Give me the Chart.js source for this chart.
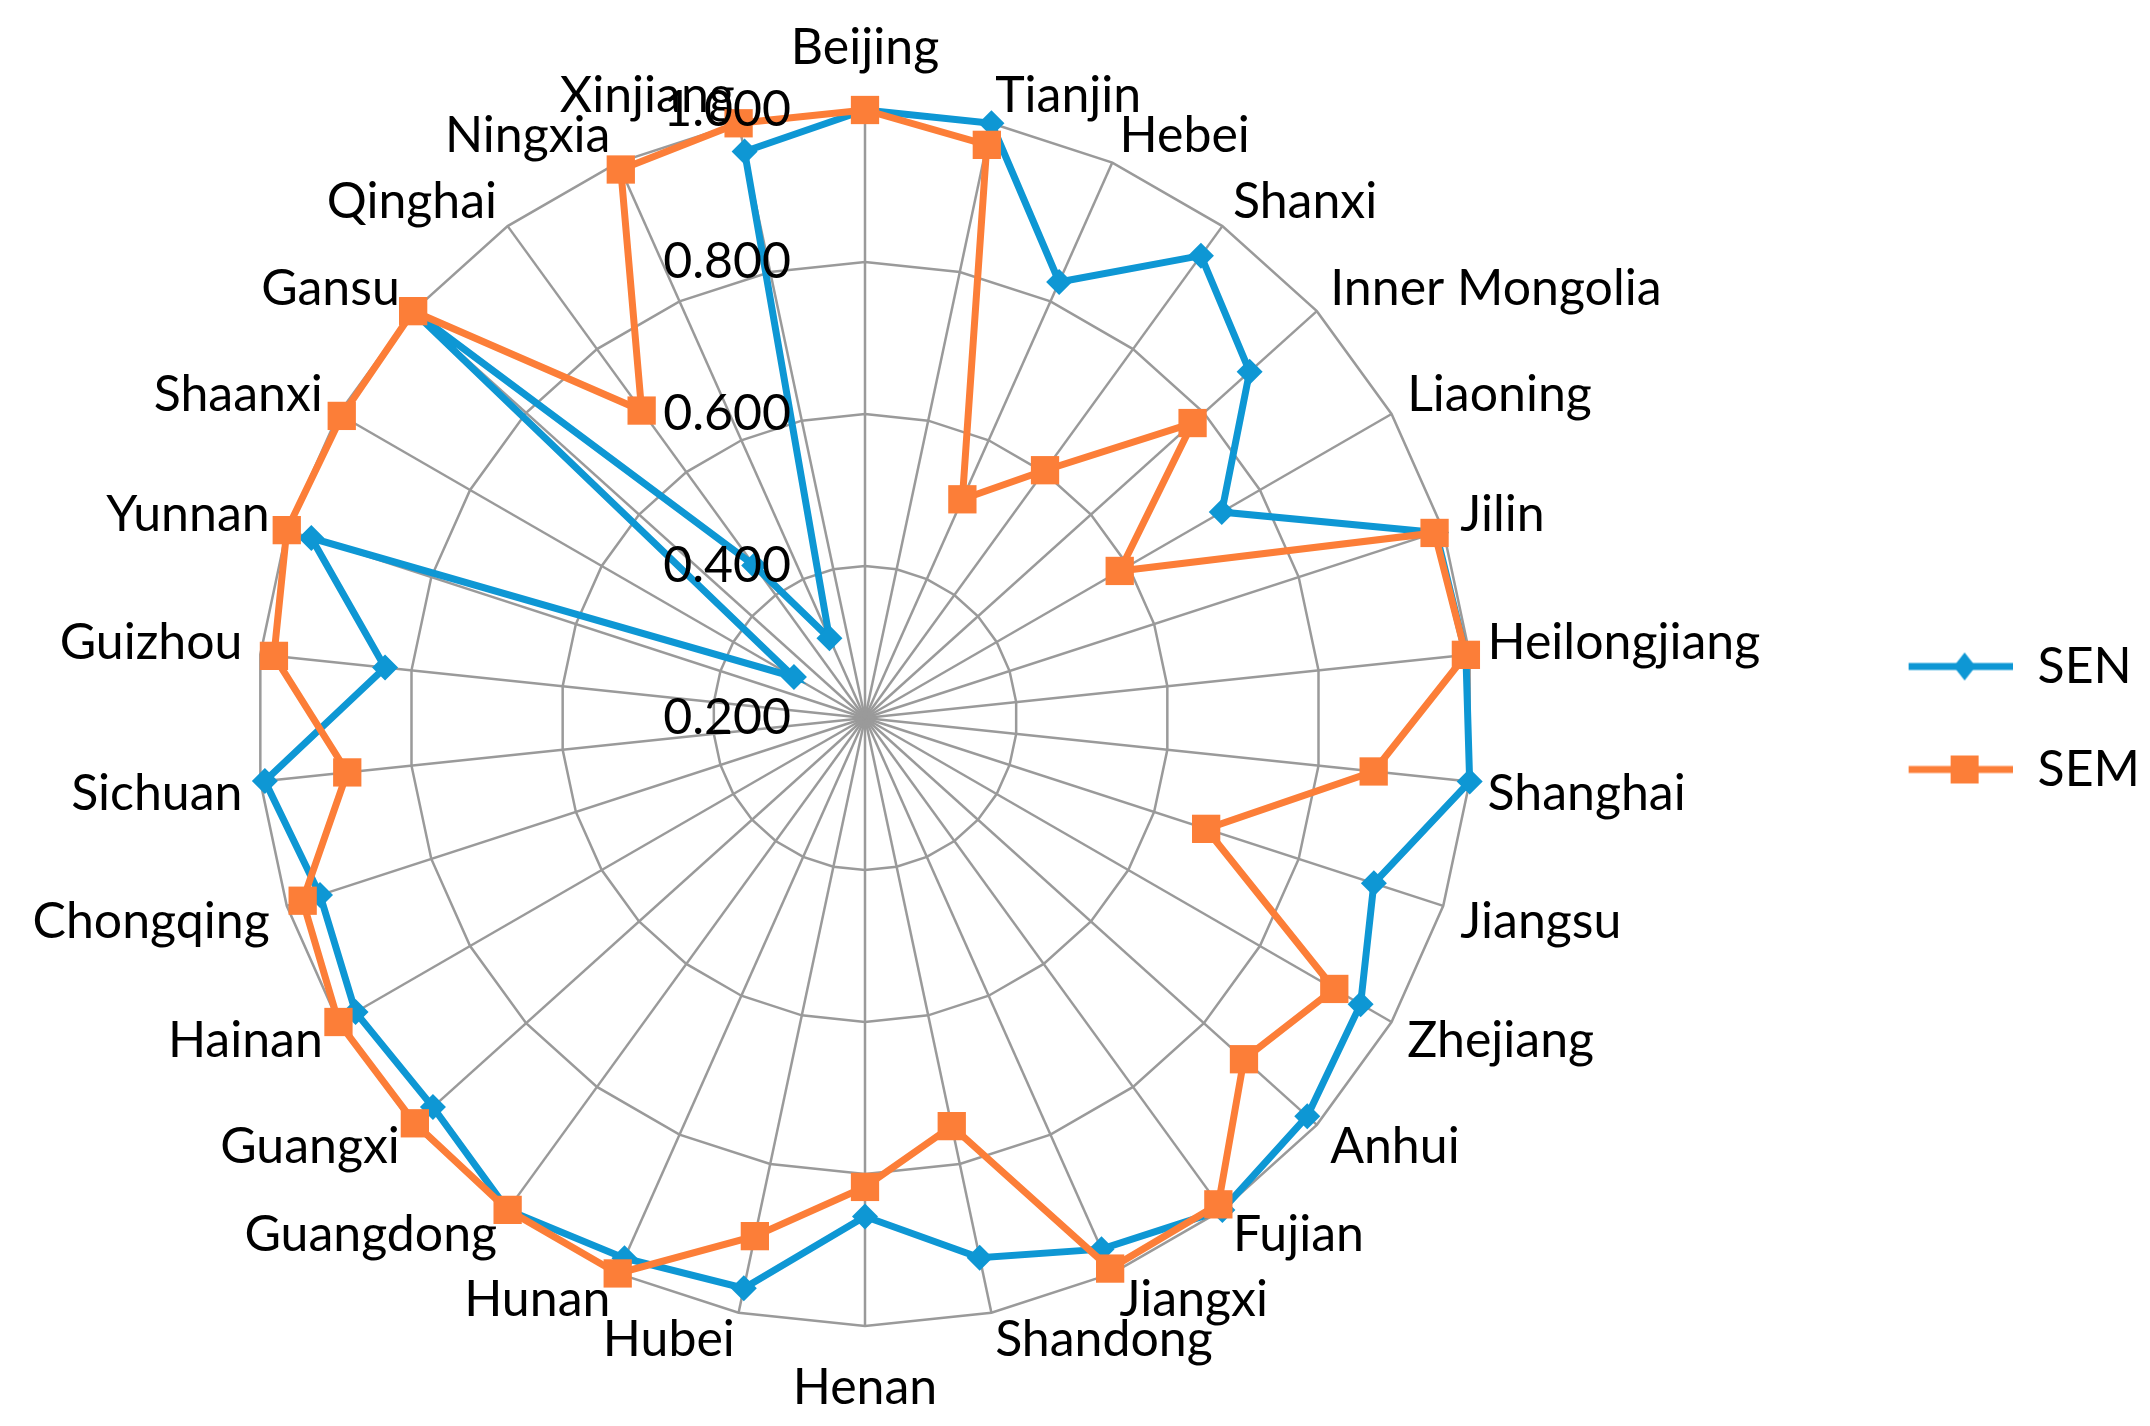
<!DOCTYPE html>
<html>
<head>
<meta charset="utf-8">
<title>SEN / SEM radar</title>
<script src="https://cdn.jsdelivr.net/npm/chart.js@4.4.1/dist/chart.umd.min.js"></script>
<style>
  html, body { margin: 0; padding: 0; background: #fff; }
  #wrap { width: 2150px; height: 1426px; }
</style>
</head>
<body>
<div id="wrap"><canvas id="radar"></canvas></div>
<script>
const provinces = ['Beijing', 'Tianjin', 'Hebei', 'Shanxi', 'Inner Mongolia', 'Liaoning', 'Jilin',
    'Heilongjiang', 'Shanghai', 'Jiangsu', 'Zhejiang', 'Anhui', 'Fujian', 'Jiangxi', 'Shandong',
    'Henan', 'Hubei', 'Hunan', 'Guangdong', 'Guangxi', 'Hainan', 'Chongqing', 'Sichuan', 'Guizhou',
    'Yunnan', 'Shaanxi', 'Gansu', 'Qinghai', 'Ningxia', 'Xinjiang'];

const sen = [1.000, 1.000, 0.828, 0.952, 0.881, 0.742, 0.990, 0.995, 1.000, 0.904, 0.953, 0.983,
    1.000, 0.965, 0.926, 0.856, 0.967, 0.978, 1.000, 0.965, 0.974, 0.954, 0.994, 0.835,
    0.966, 0.308, 1.000, 0.448, 0.315, 0.962];

const sem = [1.000, 0.971, 0.515, 0.603, 0.780, 0.587, 0.988, 0.995, 0.873, 0.672, 0.913, 0.871,
    0.991, 0.993, 0.749, 0.817, 0.897, 1.000, 1.000, 0.997, 1.000, 0.978, 0.885, 0.982,
    1.000, 0.995, 1.000, 0.700, 0.990, 1.000];

const tickValues = [0.2, 0.4, 0.6, 0.8, 1.0];

const blue = '#0E97D4';
const orange = '#FC7E38';
const gridGrey = '#9a9a9a';
const fontFamily = 'Lato, "Open Sans", sans-serif';

// line + marker sample for the legend (Excel style), drawn in the right part of the box
function legendSymbol(color, shape) {
    const c = document.createElement('canvas');
    c.width = 163;
    c.height = 36;
    const g = c.getContext('2d');
    g.strokeStyle = color;
    g.fillStyle = color;
    g.lineWidth = 7;
    g.beginPath();
    g.moveTo(59, 18);
    g.lineTo(163, 18);
    g.stroke();
    const cx = 115;
    if (shape === 'rect') {
        g.fillRect(cx - 14, 4, 28, 28);
    } else {
        g.beginPath();
        g.moveTo(cx, 4);
        g.lineTo(cx + 11, 18);
        g.lineTo(cx, 32);
        g.lineTo(cx - 11, 18);
        g.closePath();
        g.fill();
    }
    return c;
}

const legendSymbols = [legendSymbol(blue, 'diamond'), legendSymbol(orange, 'rect')];

// value labels sit left of the vertical axis, as in Excel
const tickLabels = {
    id: 'tickLabels',
    afterDraw(chart) {
        const scale = chart.scales.r;
        const ctx = chart.ctx;
        ctx.save();
        ctx.font = '50px ' + fontFamily;
        ctx.fillStyle = '#000';
        ctx.textAlign = 'right';
        ctx.textBaseline = 'middle';
        tickValues.forEach(v => {
            const y = scale.yCenter - scale.getDistanceFromCenterForValue(v);
            ctx.fillText(v.toFixed(3), scale.xCenter - 74, y);
        });
        ctx.restore();
    }
};

new Chart(document.getElementById('radar'), {
    type: 'radar',
    data: {
        labels: provinces,
        datasets: [
            {
                label: 'SEN',
                data: sen,
                borderColor: blue,
                backgroundColor: blue,
                pointBackgroundColor: blue,
                borderWidth: 7,
                pointStyle: 'rectRot',
                pointRadius: 13,
                pointBorderWidth: 0,
                fill: false,
                order: 1
            },
            {
                label: 'SEM',
                data: sem,
                borderColor: orange,
                backgroundColor: orange,
                pointBackgroundColor: orange,
                borderWidth: 7,
                pointStyle: 'rect',
                pointRadius: 20,
                pointBorderWidth: 0,
                fill: false,
                order: 0
            }
        ]
    },
    options: {
        responsive: true,
        maintainAspectRatio: false,
        animation: false,
        layout: { padding: { top: 38, bottom: 28, left: 0, right: 0 } },
        scales: {
            r: {
                min: 0.2,
                max: 1.0,
                ticks: { display: false, stepSize: 0.2 },
                grid: { color: gridGrey, lineWidth: 2.5 },
                angleLines: { color: gridGrey, lineWidth: 2.5 },
                pointLabels: {
                    color: '#000',
                    font: { family: fontFamily, size: 50, lineHeight: 0.4 },
                    padding: ctx => (ctx.index === 0 || ctx.index === 15) ? 52 : 18
                }
            }
        },
        plugins: {
            tooltip: { enabled: false },
            legend: {
                position: 'right',
                labels: {
                    color: '#000',
                    font: { family: fontFamily, size: 50 },
                    padding: 53,
                    usePointStyle: true,
                    pointStyleWidth: 163,
                    sort: (a, b) => a.datasetIndex - b.datasetIndex,
                    generateLabels(chart) {
                        const items = Chart.defaults.plugins.legend.labels.generateLabels(chart);
                        items.forEach(item => { item.pointStyle = legendSymbols[item.datasetIndex]; });
                        return items;
                    }
                }
            }
        }
    },
    plugins: [tickLabels]
});
</script>
</body>
</html>
